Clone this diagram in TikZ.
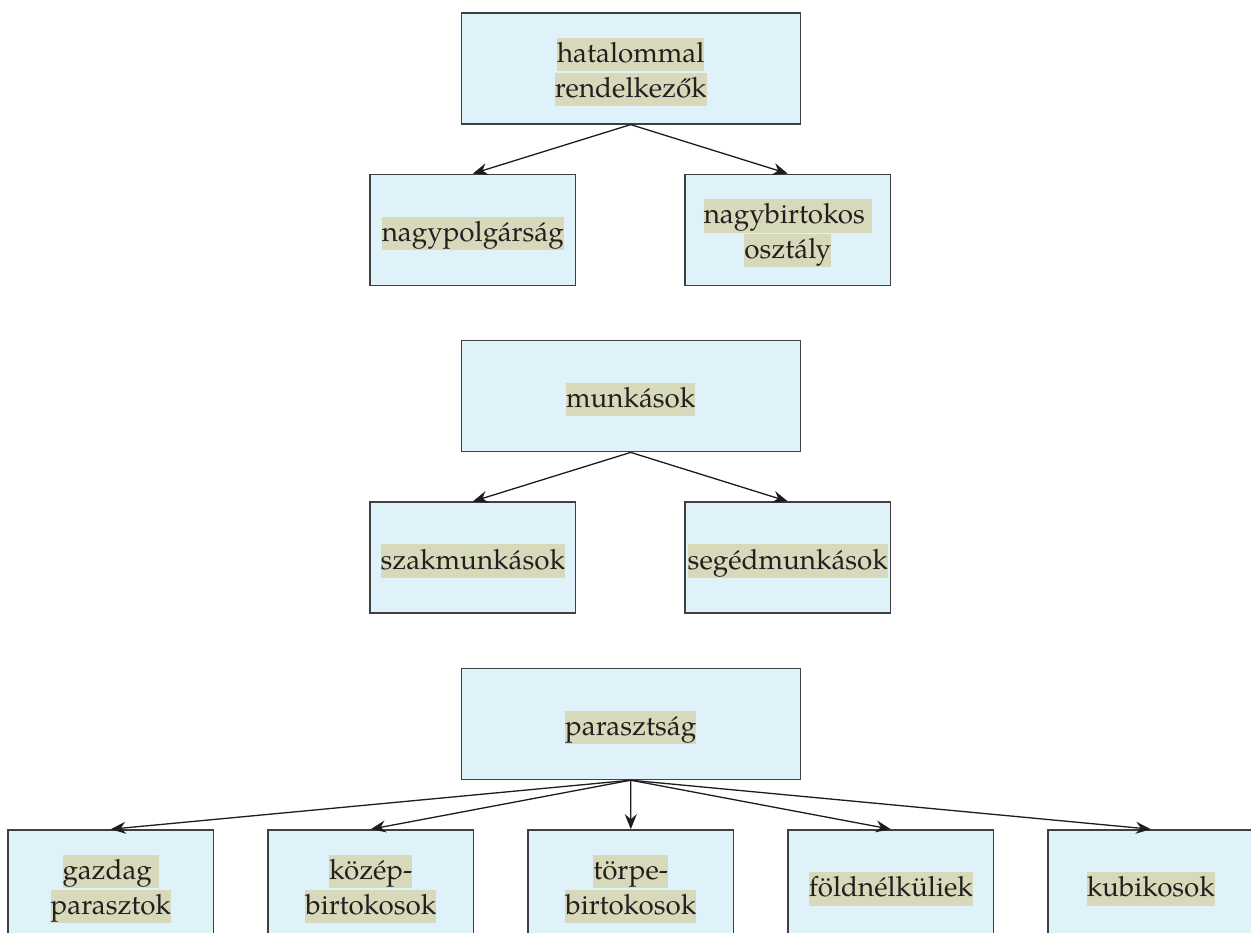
\documentclass[tikz,border=0pt]{standalone}
\usepackage{fontspec}
\setmainfont{TeX Gyre Pagella}
\usetikzlibrary{arrows.meta}
\definecolor{boxc}{RGB}{223,242,250}
\definecolor{hlc}{RGB}{214,217,186}
\definecolor{bordc}{RGB}{64,64,66}
\definecolor{txtc}{RGB}{35,31,32}
\definecolor{arrc}{RGB}{30,28,30}
\setlength\fboxsep{0pt}
\newcommand\hll[1]{\colorbox{hlc}{\rule[-8.6pt]{0pt}{33.3pt}#1}}
\tikzset{
  bigbox/.style={rectangle, draw=bordc, line width=1.4pt, fill=boxc, minimum width=339pt, minimum height=111pt, inner sep=0pt},
  smallbox/.style={rectangle, draw=bordc, line width=1.4pt, fill=boxc, minimum width=205.5pt, minimum height=111pt, inner sep=0pt},
  lbl/.style={inner sep=0pt, align=center, text=txtc, font=\fontsize{27.8}{34.7}\selectfont},
  arr/.style={draw=arrc, line width=1.3pt, -{Stealth[length=15pt,width=12pt,inset=5pt]}}
}
\begin{document}
\begin{tikzpicture}[x=1pt,y=-1pt]
\path[use as bounding box, clip] (0,0) rectangle (1251,933);
\fill[white] (0,0) rectangle (1251,933);
% group 1
\node[bigbox] (A) at (630.7,68.4) {};
\node[smallbox] (A1) at (472.8,229.8) {};
\node[smallbox] (A2) at (787.8,229.8) {};
% group 2
\node[bigbox] (B) at (630.7,396.2) {};
\node[smallbox] (B1) at (472.8,557.6) {};
\node[smallbox] (B2) at (787.8,557.6) {};
% group 3
\node[bigbox] (C) at (630.7,724.0) {};
\node[smallbox] (C1) at (110.8,885.4) {};
\node[smallbox] (C2) at (370.8,885.4) {};
\node[smallbox] (C3) at (630.8,885.4) {};
\node[smallbox] (C4) at (890.8,885.4) {};
\node[smallbox] (C5) at (1150.8,885.4) {};
% labels
\node[lbl] (At) at ([yshift=-3.5pt]A.center) {\hll{hatalommal}\\\hll{rendelkezők}};
\node[lbl] (A1t) at ([yshift=-3.5pt]A1.center) {\hll{nagypolgárság}};
\node[lbl] (A2t) at ([yshift=-3.5pt]A2.center) {\hll{nagybirtokos\ }\\\hll{osztály}};
\node[lbl] (Bt) at ([yshift=-3.5pt]B.center) {\hll{munkások}};
\node[lbl] (B1t) at ([yshift=-3.5pt]B1.center) {\hll{szakmunkások}};
\node[lbl] (B2t) at ([yshift=-3.5pt]B2.center) {\hll{segédmunkások}};
\node[lbl] (Ct) at ([yshift=-3.5pt]C.center) {\hll{parasztság}};
\node[lbl] (C1t) at ([yshift=-3.5pt]C1.center) {\hll{gazdag\ }\\\hll{parasztok}};
\node[lbl] (C2t) at ([yshift=-3.5pt]C2.center) {\hll{közép-}\\\hll{birtokosok}};
\node[lbl] (C3t) at ([yshift=-3.5pt]C3.center) {\hll{törpe-}\\\hll{birtokosok}};
\node[lbl] (C4t) at ([yshift=-3.5pt]C4.center) {\hll{földnélküliek}};
\node[lbl] (C5t) at ([yshift=-3.5pt]C5.center) {\hll{kubikosok}};
% arrows
\draw[arr] (A.south) -- (A1.north);
\draw[arr] (A.south) -- (A2.north);
\draw[arr] (B.south) -- (B1.north);
\draw[arr] (B.south) -- (B2.north);
\foreach \k in {1,...,5} { \draw[arr] (C.south) -- (C\k.north); }
\end{tikzpicture}
\end{document}
